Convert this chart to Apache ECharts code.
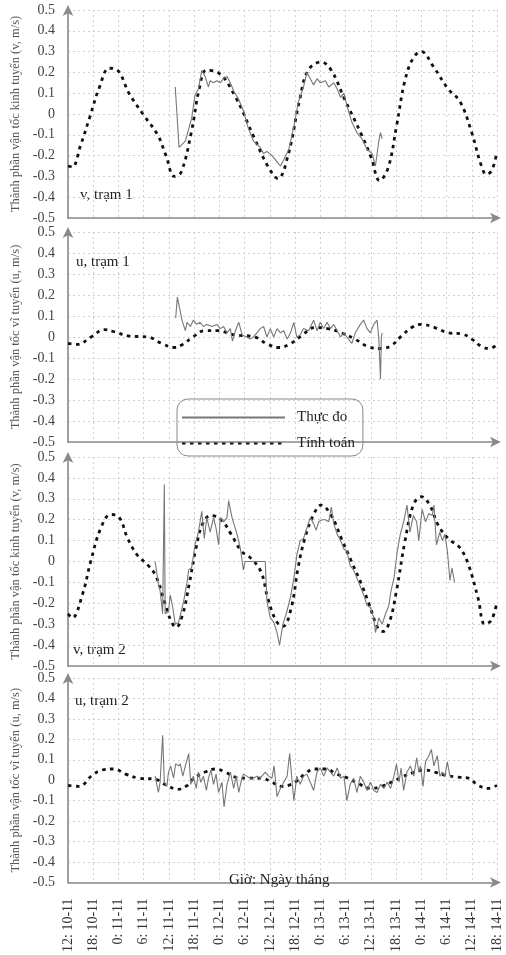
<!DOCTYPE html>
<html>
<head>
<meta charset="utf-8">
<script src="https://cdn.jsdelivr.net/npm/echarts@6/dist/echarts.min.js"></script>
<style>
html,body{margin:0;padding:0;background:#fff;}
#chart{width:506px;height:955px;}
</style>
</head>
<body>
<div id="chart"></div>
<script>
// Tick labels (every 6 hours starting 12:00 10-11)
var tickLabels = ['12: 10-11','18: 10-11','0: 11-11','6: 11-11','12: 11-11','18: 11-11','0: 12-11','6: 12-11','12: 12-11','18: 12-11','0: 13-11','6: 13-11','12: 13-11','18: 13-11','0: 14-11','6: 14-11','12: 14-11','18: 14-11'];
var seriesNames = ['Thực đo', 'Tính toán'];
var panelLabels = ['v, trạm 1', 'u, trạm 1', 'v, trạm 2', 'u, trạm 2'];
var axisNames = ['Thành phần vận tốc kinh tuyến (v, m/s)', 'Thành phần vận tốc vĩ tuyến (u, m/s)', 'Thành phần vận tốc kinh tuyến (v, m/s)', 'Thành phần vận tốc vĩ tuyến (u, m/s)'];
var xTitle = 'Giờ: Ngày tháng';

// Panel 1: v, tram 1 (hours since 12:00 10-11)
var calcT1 = [0,1,3,5.1,7.5,9.8,11.8,14.5,17.8,21.3,23.3,25.3,26.9,29.3,31.3,32.9,35.6,39.6,44.4,47.5,49.9,52.3,55.1,57.1,60.2,62.6,65.8,69.8,72.1,74.1,76.1,78.1,80.1,82.1,84,86.8,90.4,93.2,96,98.3,99.5,100.8,102];
var calcV1 = [-0.25,-0.255,-0.15,-0.02,0.13,0.22,0.21,0.1,0.0,-0.1,-0.2,-0.30,-0.28,-0.09,0.13,0.21,0.2,0.09,-0.12,-0.25,-0.31,-0.2,0.07,0.21,0.25,0.21,0.07,-0.1,-0.21,-0.32,-0.26,-0.06,0.16,0.27,0.30,0.23,0.12,0.06,-0.09,-0.25,-0.29,-0.27,-0.18];
var measT1 = [25.5,26.4,27.9,29.4,30.2,31.0,31.8,32.6,33.4,33.8,34.6,35.4,36.2,37.0,37.8,38.6,39.4,40.6,41.8,42.9,44.1,45.7,46.5,47.3,48.5,49.7,50.5,51.3,52.5,53.7,54.8,56.0,56.8,57.6,58.4,59.2,60.0,61.2,62.0,63.2,64.0,64.8,65.6,66.3,67.5,68.7,69.9,71.1,72.3,73.1,73.9,74.3,74.7];
var measV1 = [0.13,-0.16,-0.13,-0.02,0.09,0.12,0.21,0.18,0.13,0.16,0.15,0.16,0.15,0.17,0.18,0.15,0.11,0.07,0.01,-0.07,-0.13,-0.16,-0.19,-0.18,-0.2,-0.23,-0.25,-0.22,-0.17,-0.06,0.06,0.13,0.2,0.17,0.14,0.17,0.15,0.16,0.13,0.15,0.12,0.08,0.1,0.04,-0.04,-0.09,-0.12,-0.17,-0.19,-0.25,-0.13,-0.09,-0.12];

// Panel 2: u, tram 1
var calcT2 = [0,2.2,5.5,8.6,11,14.3,19,22.2,25.3,27.3,29.7,32.5,35.6,39.6,44.4,47.5,50.3,53,55.5,58.6,61.8,65,68.2,71.3,74.5,76.9,79.3,81.7,84,87.2,90.4,93.6,96,98.3,100.3,102];
var calcV2 = [-0.03,-0.035,0.0,0.035,0.025,0.005,0.0,-0.03,-0.05,-0.035,0.0,0.03,0.03,0.01,0.0,-0.035,-0.05,-0.03,0.005,0.045,0.04,0.02,-0.01,-0.045,-0.055,-0.04,0.005,0.045,0.06,0.045,0.02,0.015,-0.01,-0.045,-0.055,-0.035];
var measT2 = [25.6,26.0,27.1,27.9,28.3,29.1,29.8,30.6,31.4,32.2,33.0,34.2,35.4,36.2,37.0,37.8,38.6,39.1,39.8,40.6,41.4,42.5,43.3,44.1,44.9,45.7,46.5,47.3,48.1,48.9,49.7,50.5,51.3,52.1,52.9,53.7,54.4,55.2,56.0,57.2,58.4,59.2,60.0,60.8,61.6,62.4,63.2,64.0,64.8,65.6,66.3,67.5,68.3,69.5,70.3,71.1,71.9,72.7,73.5,73.9,74.3,74.5,74.7];
var measV2 = [0.09,0.19,0.08,0.03,0.07,0.05,0.08,0.06,0.07,0.05,0.06,0.05,0.06,0.04,0.05,0.02,0.04,-0.02,0.03,0.07,0.01,0.0,-0.01,0.0,0.02,0.04,0.05,0.0,0.04,0.0,0.04,0.02,0.03,-0.01,0.02,0.07,0.0,0.01,0.04,0.03,0.08,0.03,0.07,0.04,0.07,0.04,0.06,0.03,0.0,0.02,0.0,-0.03,0.02,0.06,0.08,0.04,0.02,0.06,0.08,-0.01,-0.2,0.0,0.02];

// Panel 3: v, tram 2
var calcT3 = [0,1,3.4,5.4,7.8,10.2,12.2,14.2,16.5,18.9,20.9,22.9,24.5,25.7,27.3,28.8,30.4,32,34,36.4,38.8,41.2,43.5,45.9,47.5,49.5,51.1,53.1,54.7,56.3,58.3,60.2,62.6,65,67.4,69.8,71.7,73.7,74.9,76.5,78.1,80.1,82.1,84,86,88,90.4,93.2,95.2,97.5,99.1,100.7,102];
var calcV3 = [-0.25,-0.27,-0.16,0,0.16,0.225,0.21,0.11,0.03,-0.015,-0.07,-0.19,-0.285,-0.315,-0.25,-0.11,0.06,0.18,0.22,0.2,0.13,0.05,0.015,-0.05,-0.175,-0.285,-0.31,-0.22,-0.03,0.11,0.22,0.27,0.22,0.11,0,-0.11,-0.21,-0.32,-0.335,-0.285,-0.14,0.095,0.27,0.31,0.27,0.175,0.11,0.065,-0.015,-0.175,-0.3,-0.28,-0.19];
var measT3 = [20.7,21.5,21.9,22.5,22.9,23.1,23.9,24.3,24.9,25.5,26.3,27.5,28.3,28.7,29.4,30.2,31.0,31.8,32.4,33.0,33.8,34.6,35.2,35.8,36.2,37.0,37.8,38.2,39.0,40.2,41.0,41.7,42.1,46.9,47.3,48.1,48.9,49.7,50.3,51.1,51.9,52.9,53.7,54.4,55.2,56.0,56.8,57.6,58.4,59.0,59.6,60.4,61.2,62.0,62.6,63.2,64.0,64.8,65.6,66.3,67.1,67.9,69.1,70.3,71.1,71.9,72.7,73.1,73.9,74.7,75.5,76.3,76.8,77.5,78.3,79.0,79.8,80.6,81.3,82.1,82.9,83.4,84.2,85.0,85.8,86.6,87.0,87.6,88.4,89.0,89.6,90.2,90.8,91.3,91.9];
var measV3 = [0,-0.11,-0.14,-0.25,0.37,-0.25,-0.24,-0.16,-0.22,-0.3,-0.29,-0.19,-0.1,-0.04,-0.03,0.08,0.14,0.24,0.11,0.21,0.14,0.21,0.16,0.08,0.21,0.19,0.21,0.29,0.21,0.13,0.06,-0.04,0,0,-0.19,-0.27,-0.29,-0.34,-0.4,-0.3,-0.25,-0.17,-0.08,0.03,0.1,0.11,0.16,0.21,0.18,0.15,0.19,0.2,0.2,0.19,0.26,0.18,0.13,0.1,0.06,0.05,-0.02,-0.04,-0.1,-0.16,-0.21,-0.22,-0.27,-0.34,-0.27,-0.3,-0.25,-0.21,-0.14,-0.08,0.05,0.13,0.19,0.27,0.14,0.22,0.19,0.1,0.25,0.19,0.23,0.22,0.27,0.08,0.14,0.1,0.13,0.05,-0.09,-0.03,-0.1];

// Panel 4: u, tram 2
var calcT4 = [0,2.6,5.8,8.1,10.9,13.7,16.9,20.9,22.5,24,25.9,28.4,29.9,32.6,35,37.4,39.8,42.9,46.1,48.5,50.8,52.4,54,56.3,58.6,61.4,63.8,66.6,68.9,72.1,74.5,76.9,79.3,82.5,84.8,87.2,89.6,92.8,95.2,97.5,99.9,102];
var calcV4 = [-0.025,-0.03,0.025,0.05,0.055,0.03,0.01,0.005,-0.015,-0.03,-0.045,-0.025,0.01,0.04,0.055,0.04,0.015,0.01,0.01,-0.01,-0.03,-0.025,-0.01,0.03,0.055,0.055,0.03,0.01,-0.015,-0.04,-0.03,-0.01,0.015,0.04,0.05,0.04,0.025,0.015,0.01,-0.025,-0.04,-0.025];
var measT4 = [20.7,21.5,21.9,22.5,22.9,23.5,23.9,24.4,25.1,25.6,26.3,26.7,27.3,27.9,28.7,29.2,29.8,30.5,31.0,31.6,32.2,32.9,33.4,34.0,34.6,35.2,35.8,36.6,37.1,37.8,38.6,39.4,40.0,40.6,41.1,41.7,42.5,43.3,44.1,44.9,45.7,46.9,47.7,48.5,49.0,49.7,50.5,51.3,52.1,52.7,53.3,53.7,54.4,55.2,56.0,56.8,57.6,58.4,59.2,60.0,60.8,61.6,62.4,63.2,64.0,64.8,65.6,66.3,67.1,67.9,68.7,69.5,70.3,71.1,71.9,72.7,73.5,74.3,75.1,75.9,76.7,77.5,78.1,78.7,79.2,79.8,80.6,81.4,82.2,82.9,83.4,83.8,84.4,85.0,85.8,86.4,87.0,87.8,88.4,89.0,89.6,90.2,90.8,91.3];
var measV4 = [0.02,-0.06,-0.01,0.22,-0.01,-0.03,0.04,0.07,0.01,0.08,0.07,0.08,0.02,0.07,0.13,-0.02,0.02,-0.04,0.04,-0.01,0.02,-0.05,0.01,0.05,-0.02,0.03,-0.06,-0.01,-0.13,-0.02,0.04,-0.04,0.02,-0.06,-0.01,0.03,0.02,0.01,0.01,0.02,0.01,0.04,0.02,0.01,0.07,-0.08,-0.04,-0.01,0.02,0.13,-0.01,-0.1,0.02,-0.02,0.02,0.03,-0.01,-0.05,0.04,0.06,0.02,0.06,0.04,0.02,0.06,0.01,0.02,-0.1,-0.02,0.01,-0.06,0.02,-0.01,-0.05,-0.01,-0.05,-0.06,-0.02,-0.04,-0.01,-0.04,0.02,0.08,-0.01,0.06,-0.05,0.04,0.07,0.02,0.11,0.04,0.07,-0.03,0.09,0.12,0.15,0.07,0.12,0.02,0.04,0.02,0.09,0.02,0.01];

var calcT = [calcT1, calcT2, calcT3, calcT4];
var calcV = [calcV1, calcV2, calcV3, calcV4];
var measT = [measT1, measT2, measT3, measT4];
var measV = [measV1, measV2, measV3, measV4];

function pairs(t, v) { return t.map(function (x, i) { return [x, v[i]]; }); }

var gridPos = [
  {top: 10, height: 208},
  {top: 232, height: 210},
  {top: 457, height: 209},
  {top: 678, height: 210}
];
var FONT = '"Liberation Serif", "DejaVu Serif", serif';
var grids = [], xAxes = [], yAxes = [], series = [], graphics = [];
var axisColor = '#8a8a8a';

for (var p = 0; p < 4; p++) {
  grids.push({left: 68, right: 9, top: gridPos[p].top, height: gridPos[p].height, containLabel: false});
  xAxes.push({
    type: 'value', gridIndex: p, min: 0, max: 102, interval: 6,
    axisLine: {show: true, onZero: false, lineStyle: {color: axisColor, width: 1.6}, symbol: ['none', 'arrow'], symbolSize: [8, 11], symbolOffset: [0, 4]},
    axisTick: {show: false},
    splitLine: {show: true, lineStyle: {color: '#d0d0d0', type: [2, 3], width: 1}},
    axisLabel: {
      show: p === 3, rotate: 90, margin: 16, color: '#333', fontSize: 14, fontFamily: FONT,
      formatter: function (v) { var i = Math.round(v / 6); return tickLabels[i] || ''; }
    }
  });
  yAxes.push({
    type: 'value', gridIndex: p, min: -0.5, max: 0.5, interval: 0.1,
    name: axisNames[p], nameLocation: 'middle', nameGap: 36, nameRotate: 90,
    nameTextStyle: {fontFamily: FONT, fontSize: 12.5, color: '#555'},
    axisLine: {show: true, onZero: false, lineStyle: {color: axisColor, width: 1.6}, symbol: ['none', 'arrow'], symbolSize: [8, 11], symbolOffset: [0, 5]},
    axisTick: {show: false},
    splitLine: {show: true, lineStyle: {color: '#d0d0d0', type: [2, 3], width: 1}},
    axisLabel: {
      margin: 13, color: '#444', fontSize: 14, fontFamily: FONT,
      formatter: function (v) { return Math.abs(v) < 1e-9 ? '0' : v.toFixed(1); }
    }
  });
  series.push({
    name: seriesNames[1], type: 'line', xAxisIndex: p, yAxisIndex: p,
    data: pairs(calcT[p], calcV[p]), smooth: 0.4, symbol: 'none',
    itemStyle: {color: '#111'},
    lineStyle: {color: '#111', width: 2.8, type: [3.5, 4.5]}, z: 3
  });
  series.push({
    name: seriesNames[0], type: 'line', xAxisIndex: p, yAxisIndex: p,
    data: pairs(measT[p], measV[p]), symbol: 'none',
    itemStyle: {color: '#777'},
    lineStyle: {color: '#777', width: 1.1}, z: 4
  });
}

var labelPos = [[80, 197], [76, 264], [73, 652], [75, 703]];
for (var k = 0; k < 4; k++) {
  graphics.push({type: 'text', left: labelPos[k][0], top: labelPos[k][1] - 9,
    style: {text: panelLabels[k], font: '15px ' + FONT, fill: '#222'}});
}
graphics.push({type: 'text', left: 229, top: 873, style: {text: xTitle, font: '15px ' + FONT, fill: '#222'}, z: 10});

var chart = echarts.init(document.getElementById('chart'), null, {renderer: 'canvas'});
chart.setOption({
  backgroundColor: '#fff',
  animation: false,
  grid: grids, xAxis: xAxes, yAxis: yAxes, series: series,
  graphic: graphics,
  legend: {
    data: seriesNames, orient: 'vertical', left: 177, top: 399,
    padding: [11, 8, 5, 4], itemGap: 11, itemWidth: 103, itemHeight: 14,
    borderColor: '#888', borderWidth: 1, borderRadius: 11, backgroundColor: 'rgba(255,255,255,0)',
    itemStyle: {opacity: 0},
    textStyle: {fontFamily: FONT, fontSize: 15, color: '#222', padding: [0, 0, 0, 7]},
    inactiveColor: '#ccc'
  }
});
</script>
</body>
</html>
